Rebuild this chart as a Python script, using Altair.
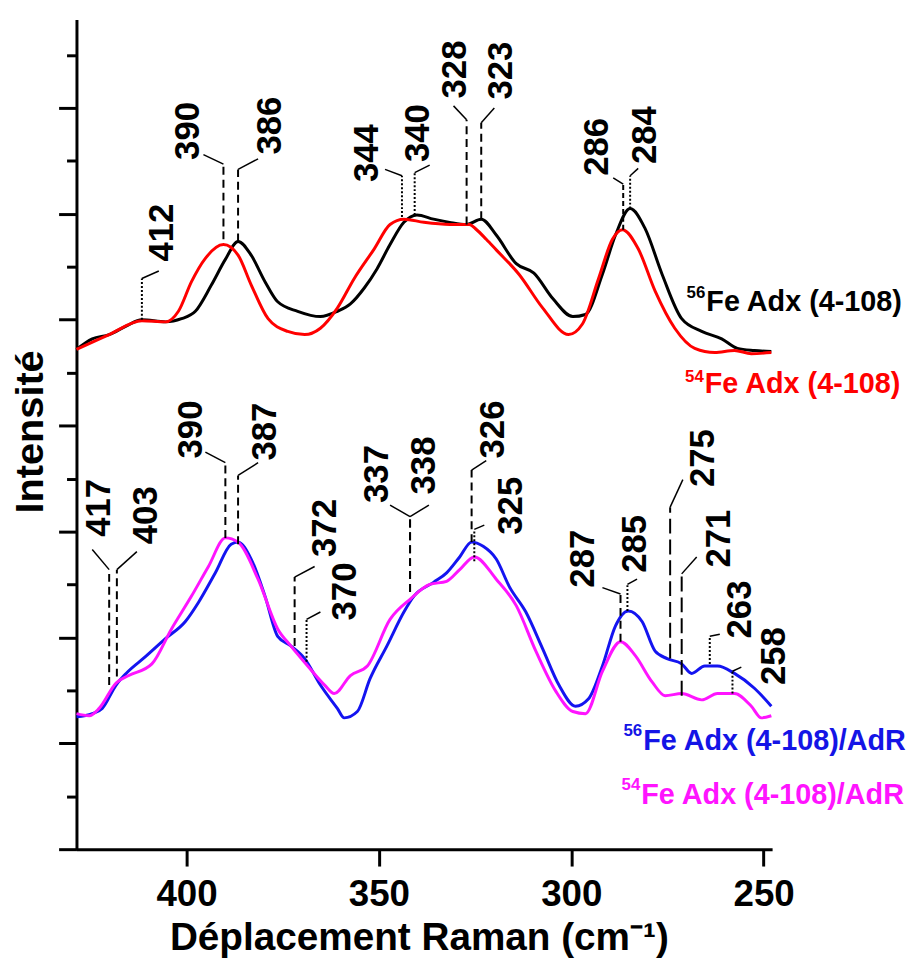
import altair as alt
import pandas as pd

FONT = "Liberation Sans"

# ---------------- spectra (Raman shift in cm-1, intensity in arbitrary units) ----------------
adx56_x = [428.6, 424.5, 420.1, 415.7, 411.6, 405.4, 401.3, 397.7, 393.5, 389.9, 386.6, 383.2,
           379.6, 376.3, 371.1, 365.2, 360.8, 357.4, 353.8, 350.5, 347.1, 343.5, 340.1, 335.8,
           331.6, 327.2, 323.4, 319.5, 314.3, 309.7, 304.8, 299.6, 296.3, 291.9, 288.5, 284.7,
           280.8, 276.4, 271.3, 266.1, 260.9, 256.8, 252.4, 248.0]
adx56_y = [4.72, 4.82, 4.86, 4.94, 5.00, 4.98, 5.01, 5.08, 5.33, 5.57, 5.74, 5.61,
           5.36, 5.17, 5.08, 5.03, 5.08, 5.15, 5.30, 5.48, 5.71, 5.92, 5.99, 5.95,
           5.92, 5.90, 5.95, 5.80, 5.53, 5.44, 5.20, 5.03, 5.05, 5.43, 5.80, 6.05,
           5.86, 5.43, 5.01, 4.89, 4.82, 4.73, 4.71, 4.70]

adx54_x = [428.6, 420.1, 411.6, 405.4, 402.1, 398.7, 395.1, 390.4, 386.6, 383.2, 378.8, 373.7,
           369.3, 365.2, 360.8, 356.4, 351.2, 347.1, 343.5, 338.3, 331.6, 326.5, 324.6, 322.1,
           319.5, 313.6, 307.4, 300.7, 297.1, 292.9, 289.3, 286.7, 282.6, 278.2, 273.1, 267.9,
           262.7, 257.6, 253.2, 248.0]
adx54_y = [4.72, 4.86, 4.99, 4.98, 5.08, 5.36, 5.58, 5.71, 5.61, 5.33, 5.01, 4.89,
           4.86, 4.92, 5.11, 5.39, 5.67, 5.90, 5.95, 5.92, 5.90, 5.90, 5.85, 5.76,
           5.66, 5.43, 5.11, 4.86, 4.96, 5.39, 5.76, 5.85, 5.67, 5.27, 4.92, 4.73,
           4.69, 4.71, 4.68, 4.69]

adr56_x = [428.6, 424.5, 421.9, 418.3, 415.7, 410.6, 405.4, 400.3, 396.9, 392.5, 388.4, 386.6,
           383.2, 379.6, 376.3, 372.9, 369.3, 365.2, 360.8, 359.0, 355.6, 352.3, 347.9, 343.5,
           340.9, 335.8, 332.4, 329.0, 325.9, 322.9, 319.5, 316.1, 311.8, 307.4, 303.2, 298.9,
           295.5, 291.9, 288.5, 285.2, 281.6, 278.2, 275.1, 271.3, 268.7, 265.3, 262.0, 257.6,
           252.4, 248.0]
adr56_y = [1.25, 1.28, 1.33, 1.55, 1.66, 1.82, 1.99, 2.15, 2.33, 2.61, 2.88, 2.90,
           2.74, 2.39, 2.01, 1.92, 1.80, 1.55, 1.33, 1.24, 1.30, 1.61, 1.92, 2.24,
           2.39, 2.52, 2.61, 2.76, 2.90, 2.86, 2.74, 2.48, 2.24, 1.89, 1.55, 1.35,
           1.42, 1.73, 2.11, 2.25, 2.15, 1.87, 1.80, 1.75, 1.66, 1.73, 1.73, 1.66,
           1.52, 1.35]

adr54_x = [428.6, 425.3, 422.7, 418.3, 415.0, 409.0, 403.9, 398.7, 394.3, 389.9, 386.6, 381.4,
           376.3, 372.9, 368.5, 364.1, 361.6, 357.4, 353.0, 347.1, 341.9, 336.8, 332.4, 329.0,
           325.2, 319.5, 314.3, 309.2, 304.0, 299.6, 296.3, 291.9, 287.2, 283.4, 279.0, 275.6,
           271.3, 266.1, 262.0, 257.6, 253.2, 250.6, 248.0]
adr54_y = [1.28, 1.26, 1.33, 1.57, 1.64, 1.75, 2.08, 2.39, 2.67, 2.94, 2.90, 2.55,
           2.08, 1.92, 1.73, 1.55, 1.47, 1.64, 1.73, 2.17, 2.36, 2.50, 2.53, 2.64,
           2.76, 2.55, 2.30, 1.87, 1.49, 1.30, 1.28, 1.68, 1.96, 1.83, 1.58, 1.45,
           1.47, 1.41, 1.47, 1.47, 1.35, 1.24, 1.26]

# ---------------- peak annotations ----------------
peak_label = ["412", "390", "386", "344", "340", "328", "323", "286", "284",
              "417", "403", "390", "387", "372", "370", "337", "338", "326", "325",
              "287", "285", "275", "271", "263", "258"]
peak_x = [411.6, 390.4, 386.6, 344.0, 340.7, 327.2, 323.4, 286.5, 284.7,
          420.1, 418.1, 389.9, 386.6, 371.9, 368.8, 341.9, 341.9, 325.9, 325.2,
          287.2, 285.4, 274.3, 271.3, 264.0, 258.1]
peak_y_low = [5.00, 5.76, 5.74, 5.97, 5.99, 5.90, 5.95, 5.85, 6.05,
              1.55, 1.63, 2.94, 2.88, 1.92, 1.77, 2.43, 2.43, 2.90, 2.72,
              1.96, 2.25, 1.80, 1.45, 1.75, 1.47]
peak_y_high = [5.39, 6.47, 6.42, 6.36, 6.39, 6.89, 6.86, 6.28, 6.36,
               2.64, 2.64, 3.65, 3.53, 2.57, 2.17, 3.14, 3.14, 3.58, 3.02,
               2.41, 2.50, 3.23, 2.60, 2.01, 1.68]
peak_lead_x = [407.2, 395.6, 381.4, 348.4, 336.8, 330.6, 320.0, 289.1, 282.6,
               424.5, 412.9, 395.1, 381.4, 366.7, 365.2, 347.1, 337.0, 322.1, 322.6,
               291.9, 282.9, 271.0, 267.4, 261.4, 255.8]
peak_lead_y = [5.46, 6.56, 6.52, 6.42, 6.46, 7.02, 7.00, 6.34, 6.43,
               2.83, 2.81, 3.75, 3.65, 2.67, 2.24, 3.25, 3.25, 3.67, 3.06,
               2.47, 2.55, 3.49, 2.76, 2.03, 1.72]
peak_text_x = [406.4, 399.5, 378.3, 353.0, 339.9, 330.3, 318.2, 293.4, 280.8,
               422.7, 410.6, 398.7, 379.6, 364.1, 358.7, 350.5, 338.3, 320.3, 315.6,
               296.8, 283.4, 265.8, 261.7, 256.0, 247.3]
peak_text_y = [5.55, 6.51, 6.56, 6.30, 6.49, 7.09, 7.08, 6.36, 6.47,
               2.95, 2.88, 3.69, 3.67, 2.76, 2.16, 3.27, 3.35, 3.69, 2.97,
               2.47, 2.61, 3.42, 2.66, 1.99, 1.55]
peak_line = ["dot", "dash", "dash", "dot", "dot", "dash", "dash", "short", "dot",
             "dash", "dash", "dash", "dash", "dash", "dot", "dash", "dash", "dash", "dot",
             "dash", "dot", "long", "long", "dot", "dot"]

# ---------------- series labels ----------------
series_name = ["Fe Adx (4-108)", "Fe Adx (4-108)", "Fe Adx (4-108)/AdR", "Fe Adx (4-108)/AdR"]
series_isotope = ["56", "54", "56", "54"]
series_label_x = [264.9, 265.3, 281.3, 281.8]
series_label_y = [5.08, 4.31, 0.94, 0.43]
series_sup_y = [5.21, 4.41, 1.07, 0.56]

# ---------------- chart ----------------
x_scale = alt.Scale(domain=[247.8, 428.6], reverse=True, nice=False, zero=False)
y_scale = alt.Scale(domain=[0, 7.835], nice=False, zero=False)

x_axis = alt.Axis(
    values=[400, 350, 300, 250], format="d", grid=False,
    labelFont=FONT, labelFontSize=37, labelFontWeight="bold", labelColor="black",
    labelPadding=11, labelFlush=False,
    tickSize=17, tickWidth=3, tickColor="black",
    domainWidth=3, domainColor="black",
    title="Déplacement Raman (cm⁻¹)", titleFont=FONT, titleFontSize=39,
    titleFontWeight="bold", titleColor="black", titleBaseline="alphabetic",
    titleY=101, titleX=345, titleAlign="center",
)
y_axis = alt.Axis(
    values=[i * 0.5 for i in range(16)], labels=False, grid=False,
    tickSize={"condition": {"test": "datum.value % 1 === 0", "value": 18}, "value": 10},
    tickWidth=3, tickColor="black", domainWidth=3, domainColor="black",
    title="Intensité", titleFont=FONT, titleFontSize=40, titleFontWeight="bold",
    titleColor="black", titleAngle=270, titleBaseline="alphabetic", titleAlign="center",
    titleX=-34, titleY=415,
)


def X(field):
    return alt.X(field, type="quantitative", scale=x_scale, axis=x_axis)


def Y(field):
    return alt.Y(field, type="quantitative", scale=y_scale, axis=y_axis)


curves = [
    (adx56_x, adx56_y, "#000000"),
    (adx54_x, adx54_y, "#ff0000"),
    (adr56_x, adr56_y, "#1414f0"),
    (adr54_x, adr54_y, "#ff14ff"),
]
layers = []
for xs, ys, col in curves:
    df = pd.DataFrame({"shift": xs, "intensity": ys})
    layers.append(
        alt.Chart(df).mark_line(color=col, strokeWidth=3, interpolate="monotone").encode(
            x=X("shift"), y=Y("intensity"), order=alt.Order("shift:Q", sort="descending")
        )
    )

ann = pd.DataFrame({
    "label": peak_label, "shift": peak_x, "intensity": peak_y_low,
    "intensity_top": peak_y_high, "lead_x": peak_lead_x, "lead_y": peak_lead_y,
    "text_x": peak_text_x, "text_y": peak_text_y, "style": peak_line,
})

vlines = alt.Chart(ann).mark_rule(strokeWidth=2, color="black").encode(
    x=X("shift"), y=Y("intensity"), y2="intensity_top:Q",
    strokeDash=alt.StrokeDash(
        "style:N",
        scale=alt.Scale(domain=["dash", "dot", "short", "long"],
                        range=[[8, 5], [2, 2], [5, 3], [15, 6]]),
        legend=None,
    ),
)
leads = alt.Chart(ann).mark_rule(strokeWidth=1.5, color="black").encode(
    x=X("shift"), y=Y("intensity_top"), x2="lead_x:Q", y2="lead_y:Q",
)
labels = alt.Chart(ann).mark_text(
    angle=270, align="left", baseline="middle", font=FONT, fontSize=35,
    fontWeight="bold", color="black",
).encode(x=X("text_x"), y=Y("text_y"), text="label:N")

leg = pd.DataFrame({
    "name": series_name, "iso": series_isotope, "shift": series_label_x,
    "intensity": series_label_y, "sup_y": series_sup_y,
    "series": ["a", "b", "c", "d"],
})
leg_color = alt.Color("series:N", scale=alt.Scale(domain=["a", "b", "c", "d"],
                      range=["#000000", "#ff0000", "#1414e6", "#ff14ff"]), legend=None)
leg_main = alt.Chart(leg).mark_text(
    align="left", baseline="alphabetic", font=FONT, fontSize=29, fontWeight="bold",
).encode(x=X("shift"), y=Y("intensity"), text="name:N", color=leg_color)
leg_sup = alt.Chart(leg).mark_text(
    align="right", baseline="alphabetic", font=FONT, fontSize=17, fontWeight="bold", dx=-1,
).encode(x=X("shift"), y=Y("sup_y"), text="iso:N", color=leg_color)

chart = alt.layer(*layers, vlines, leads, labels, leg_main, leg_sup).properties(
    width=701, height=836,
    autosize=alt.AutoSizeParams(type="none"),
    padding={"left": 69, "top": 8, "right": 144, "bottom": 107},
    background="white",
).configure_view(stroke=None)

chart.save("out.html", embed_options={"renderer": "svg", "actions": False})
